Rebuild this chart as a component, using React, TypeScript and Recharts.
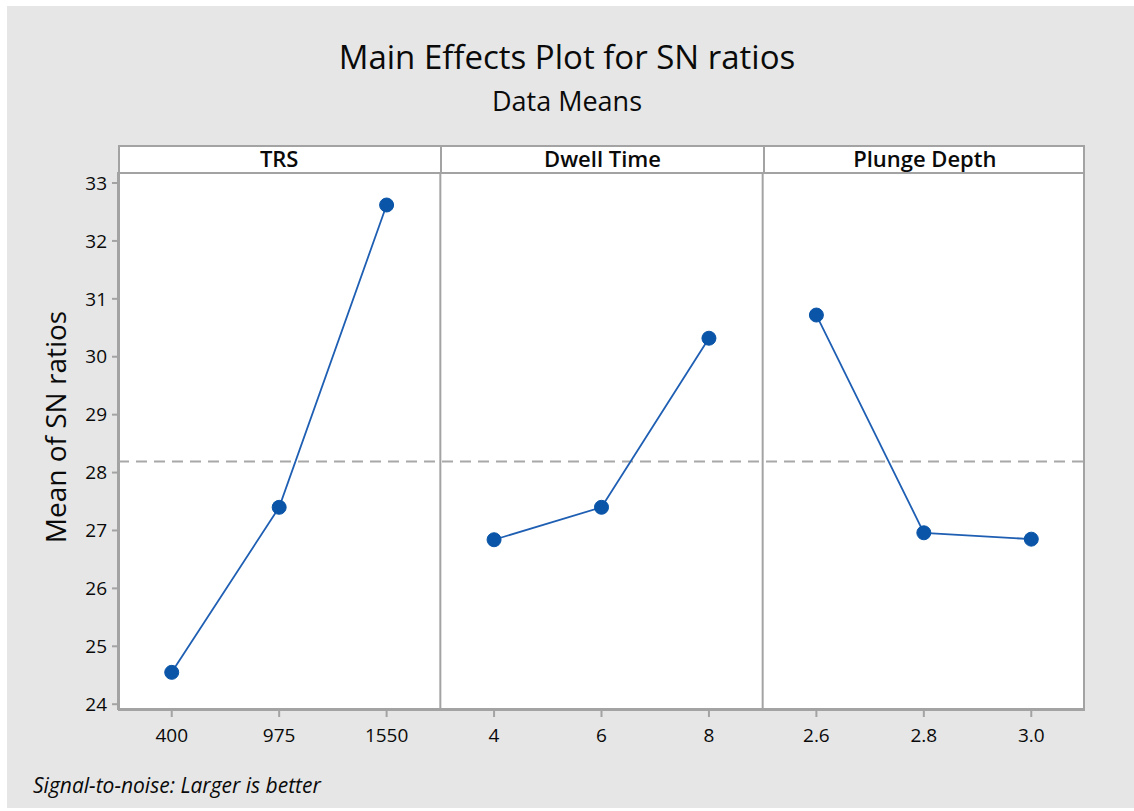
import React from 'react';
import { LineChart, Line, XAxis, YAxis, ReferenceLine } from 'recharts';

const factors = ['TRS', 'Dwell Time', 'Plunge Depth'];
const trsLevels = ['400', '975', '1550'];
const trsMeans = [24.55, 27.4, 32.62];
const dwellLevels = ['4', '6', '8'];
const dwellMeans = [26.84, 27.4, 30.32];
const plungeLevels = ['2.6', '2.8', '3.0'];
const plungeMeans = [30.72, 26.96, 26.85];
const yTicks = [24, 25, 26, 27, 28, 29, 30, 31, 32, 33];

const FONT = '"Open Sans", "Noto Sans", sans-serif';
const GRID = '#a3a3a3';
const BLUE = '#0a55a8';

// lay the three factors side by side on one numeric index axis
const levelLabels = [...trsLevels, ...dwellLevels, ...plungeLevels];
const data = levelLabels.map((_, i) => ({
  idx: i,
  trs: i < 3 ? trsMeans[i] : null,
  dwell: i >= 3 && i < 6 ? dwellMeans[i - 3] : null,
  plunge: i >= 6 ? plungeMeans[i - 6] : null,
}));
const grandMean = trsMeans.reduce((a, b) => a + b, 0) / trsMeans.length;

// plot box in page pixels
const PL = 118;
const PR = 1085;
const PT = 172;
const PB = 710;
const W = 1134;
const H = 811;

const App: React.FC = () => {
  const panelW = (PR - PL) / 3;
  return (
    <div style={{ position: 'absolute', left: 0, top: 0, width: W, height: H, background: '#ffffff', fontFamily: FONT, color: '#0a0a0a' }}>
      {/* grey page */}
      <div style={{ position: 'absolute', left: 7, top: 6, width: W - 7, height: H - 9, background: '#e6e6e6' }} />

      {/* Title */}
      <div style={{ position: 'absolute', left: 0, width: W, top: 34, textAlign: 'center', fontSize: 33 }}>
        Main Effects Plot for SN ratios
      </div>
      <div style={{ position: 'absolute', left: 0, width: W, top: 82, textAlign: 'center', fontSize: 27 }}>
        Data Means
      </div>

      {/* panel header strip */}
      <div style={{ position: 'absolute', left: PL, top: 145, width: PR - PL, height: PT - 145, background: '#fff', boxSizing: 'border-box', border: `2px solid ${GRID}`, borderBottom: 'none' }} />
      {factors.map((f, i) => (
        <div key={f} style={{ position: 'absolute', left: PL + panelW * i, top: 145, width: panelW, height: PT - 145, lineHeight: `${PT - 145}px`, textAlign: 'center', fontSize: 22, fontWeight: 600, boxSizing: 'border-box', borderLeft: i > 0 ? `2px solid ${GRID}` : 'none' }}>
          {f}
        </div>
      ))}

      {/* plot background */}
      <div style={{ position: 'absolute', left: PL, top: PT, width: PR - PL, height: PB - PT, background: '#fff', boxSizing: 'border-box', border: `2px solid ${GRID}` }} />

      {/* y label */}
      <div style={{ position: 'absolute', left: 55 - 150, top: 427 - 20, width: 300, height: 40, lineHeight: '40px', textAlign: 'center', fontSize: 28, transform: 'rotate(-90deg)' }}>
        Mean of SN ratios
      </div>

      <div style={{ position: 'absolute', left: 0, top: 0 }}>
        <LineChart width={W} height={H} data={data} margin={{ top: PT, right: W - PR, bottom: H - PB - 45, left: PL - 60 }}>
          <XAxis
            dataKey="idx"
            type="number"
            domain={[-0.5, 8.5]}
            allowDataOverflow
            ticks={[0, 1, 2, 3, 4, 5, 6, 7, 8]}
            interval={0}
            tickFormatter={(v: number) => levelLabels[v]}
            height={45}
            axisLine={{ stroke: GRID, strokeWidth: 2 }}
            tickLine={{ stroke: GRID, strokeWidth: 2 }}
            tickSize={7}
            tick={{ fill: '#0a0a0a', fontSize: 19, fontFamily: FONT }}
            dy={10}
          />
          <YAxis
            type="number"
            domain={[23.9, 33.19]}
            ticks={yTicks}
            interval={0}
            width={60}
            axisLine={{ stroke: GRID, strokeWidth: 2 }}
            tickLine={{ stroke: GRID, strokeWidth: 2 }}
            tickSize={6}
            tick={{ fill: '#0a0a0a', fontSize: 19, fontFamily: FONT }}
            dx={-3}
            allowDataOverflow
          />
          <ReferenceLine x={2.5} stroke={GRID} strokeWidth={2} />
          <ReferenceLine x={5.5} stroke={GRID} strokeWidth={2} />
          <ReferenceLine y={grandMean} stroke="#a8a8a8" strokeWidth={2} strokeDasharray="11 7" />
          {['trs', 'dwell', 'plunge'].map((k) => (
            <Line
              key={k}
              dataKey={k}
              type="linear"
              stroke="#1f5fb3"
              strokeWidth={1.8}
              dot={{ r: 7, fill: BLUE, stroke: BLUE, strokeWidth: 1 }}
              isAnimationActive={false}
            />
          ))}
        </LineChart>
      </div>

      {/* footer */}
      <div style={{ position: 'absolute', left: 33, top: 771, fontSize: 21, fontStyle: 'italic' }}>
        Signal-to-noise: Larger is better
      </div>
    </div>
  );
};

export default App;
